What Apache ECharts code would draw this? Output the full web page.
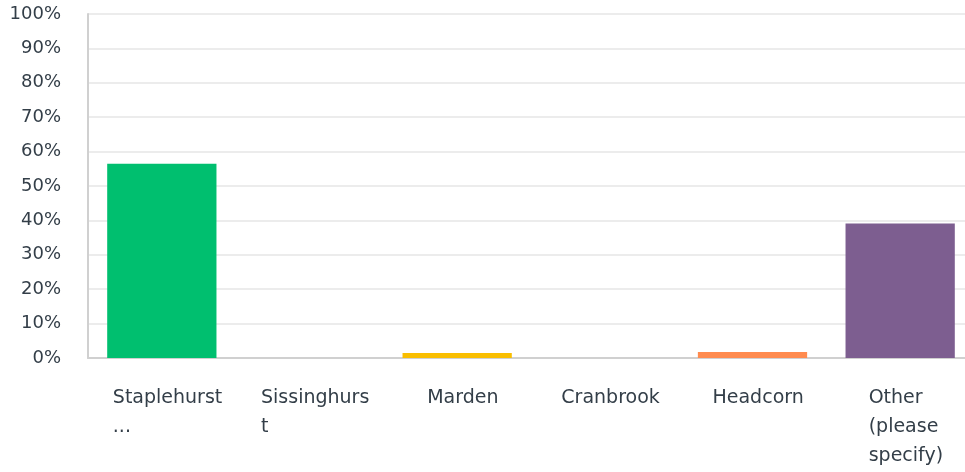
<!DOCTYPE html>
<html>
<head>
<meta charset="utf-8">
<script src="https://cdn.jsdelivr.net/npm/echarts@6/dist/echarts.min.js"></script>
<style>
  html, body { margin: 0; padding: 0; background: #fff; overflow: hidden; }
  #chart { width: 974px; height: 472px; }
</style>
</head>
<body>
<div id="chart"></div>
<script>
// categories (as they are wrapped in the picture)
const categories = ['Staplehurst\n...', 'Sissinghurs\nt', 'Marden', 'Cranbrook', 'Headcorn', 'Other\n(please\nspecify)'];
// percent of answers
const values = [56.5, 0, 1.45, 0, 1.75, 39.1];
const barColors = ['#00bf6f', '#2dccd3', '#f9be00', '#6bc8cd', '#ff8b4f', '#7d5e90'];
const yTicks = [0, 10, 20, 30, 40, 50, 60, 70, 80, 90, 100];

const labelFont = '19px "DejaVu Sans"';

// widest line of a label, so lines can sit left-aligned in a centred block
function widest(txt) {
  const ctx = document.createElement('canvas').getContext('2d');
  ctx.font = labelFont;
  let w = 0;
  txt.split('\n').forEach(function (l) {
    w = Math.max(w, ctx.measureText(l).width);
  });
  return Math.ceil(w);
}

const rich = {};
categories.forEach(function (c, i) {
  rich['c' + i] = {
    width: widest(c),
    align: 'left',
    color: '#333e48',
    fontFamily: 'DejaVu Sans',
    fontSize: 19,
    lineHeight: 29
  };
});

const chart = echarts.init(document.getElementById('chart'));

chart.setOption({
  animation: false,
  grid: {
    left: 88,
    right: 0,
    top: 14,
    bottom: 114
  },
  xAxis: {
    type: 'category',
    data: categories,
    axisLine: { lineStyle: { color: '#d0d0d0', width: 2 } },
    axisTick: { show: false },
    axisLabel: {
      interval: 0,
      margin: 26,
      padding: [0, 0, 0, 12],
      rich: rich,
      formatter: function (v, i) {
        return v.split('\n').map(function (l) {
          return '{c' + i + '|' + l + '}';
        }).join('\n');
      }
    }
  },
  yAxis: {
    type: 'value',
    min: yTicks[0],
    max: yTicks[yTicks.length - 1],
    interval: 10,
    axisLine: { show: true, lineStyle: { color: '#d0d0d0', width: 2 } },
    axisTick: { show: false },
    splitLine: { lineStyle: { color: '#ececec', width: 2 } },
    axisLabel: {
      margin: 27,
      color: '#333e48',
      fontFamily: 'DejaVu Sans',
      fontSize: 18,
      formatter: '{value}%'
    }
  },
  series: [{
    type: 'bar',
    barWidth: '74%',
    data: values.map(function (v, i) {
      return { value: v, itemStyle: { color: barColors[i] } };
    })
  }]
});
</script>
</body>
</html>
